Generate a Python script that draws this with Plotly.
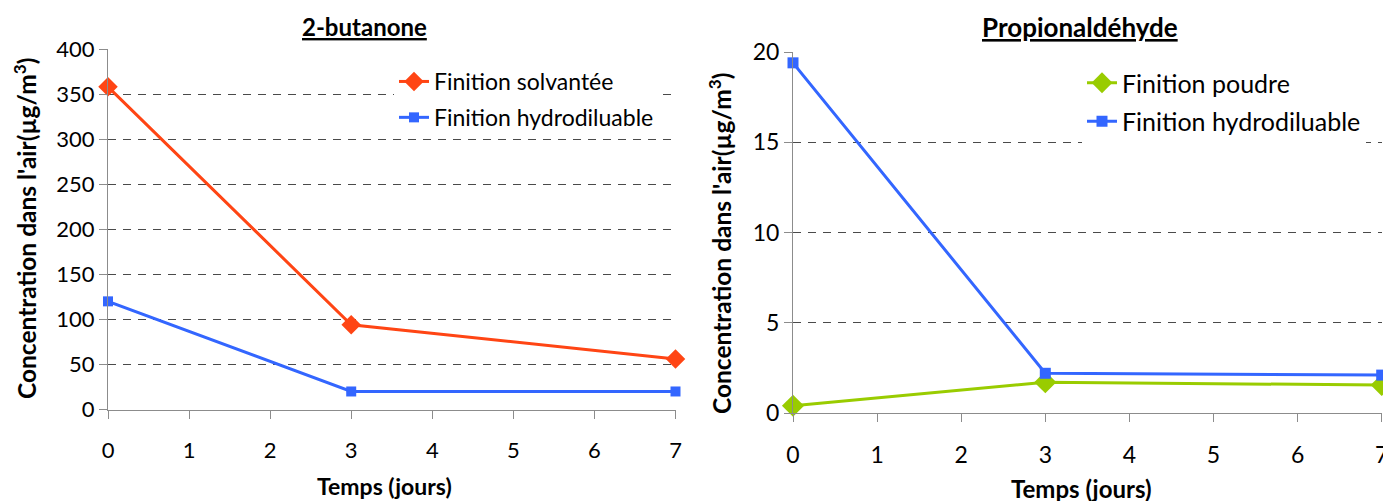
import plotly.graph_objects as go

# ---- data ----
days = [0, 3, 7]
x_tick_vals = [0, 1, 2, 3, 4, 5, 6, 7]
butanone_solvantee = [358, 94, 56]
butanone_hydro = [120, 20, 20]
propio_poudre = [0.4, 1.7, 1.55]
propio_hydro = [19.4, 2.2, 2.1]

W, H = 1383, 501
def px(x):
    return x / W
def py(y):
    return 1 - y / H

ORANGE = "#FF4514"
BLUE = "#3366FF"
GREEN = "#99CC00"
AXIS = "#8c8c8c"
GRID = "#4a4a4a"
FONT = "Lato, 'Open Sans', sans-serif"

fig = go.Figure()

fig.add_trace(go.Scatter(x=days, y=butanone_solvantee, mode="lines+markers",
                         name="Finition solvantée", legendgroup="a",
                         line=dict(color=ORANGE, width=3),
                         marker=dict(symbol="diamond", size=15, color=ORANGE),
                         cliponaxis=False, xaxis="x", yaxis="y", legend="legend"))
fig.add_trace(go.Scatter(x=days, y=butanone_hydro, mode="lines+markers",
                         name="Finition hydrodiluable", legendgroup="b",
                         line=dict(color=BLUE, width=3),
                         marker=dict(symbol="square", size=10, color=BLUE),
                         cliponaxis=False, xaxis="x", yaxis="y", legend="legend"))
fig.add_trace(go.Scatter(x=days, y=propio_poudre, mode="lines+markers",
                         name="Finition poudre", legendgroup="c",
                         line=dict(color=GREEN, width=3),
                         marker=dict(symbol="diamond", size=17, color=GREEN),
                         cliponaxis=False, xaxis="x2", yaxis="y2", legend="legend2"))
fig.add_trace(go.Scatter(x=days, y=propio_hydro, mode="lines+markers",
                         name="Finition hydrodiluable", legendgroup="d",
                         line=dict(color=BLUE, width=3),
                         marker=dict(symbol="square", size=11, color=BLUE),
                         cliponaxis=False, xaxis="x2", yaxis="y2", legend="legend2"))

xcommon = dict(range=[0, 7], tickvals=x_tick_vals, ticks="outside", ticklen=8,
               tickcolor=AXIS, showline=True, linecolor=AXIS, linewidth=1,
               showgrid=False, zeroline=False, ticklabelstandoff=13, automargin=False,
               ticklabeloverflow="allow")
ycommon = dict(ticks="outside", ticklen=8, tickcolor=AXIS, showline=True,
               linecolor=AXIS, linewidth=1, showgrid=True, gridcolor=GRID,
               griddash="8px,7px", gridwidth=1, zeroline=False, automargin=False)

fig.update_layout(
    width=W, height=H,
    margin=dict(l=0, r=0, t=0, b=0, pad=0, autoexpand=False),
    paper_bgcolor="white", plot_bgcolor="white",
    font=dict(family=FONT, color="black", size=22),
    xaxis=dict(domain=[px(108), px(675.5)], anchor="y", tickfont=dict(size=22), **xcommon),
    yaxis=dict(domain=[py(409.5), py(49)], anchor="x", range=[0, 400], dtick=50,
               tickfont=dict(size=22), **ycommon),
    xaxis2=dict(domain=[px(793), px(1381.7)], anchor="y2", tickfont=dict(size=23), **xcommon),
    yaxis2=dict(domain=[py(413), py(52)], anchor="x2", range=[0, 20], dtick=5,
                tickfont=dict(size=23), **ycommon),
    legend=dict(x=px(394), y=py(60), xanchor="left", yanchor="top",
                bgcolor="white", font=dict(size=23), tracegroupgap=3,
                traceorder="grouped"),
    legend2=dict(x=px(1082), y=py(60), xanchor="left", yanchor="top",
                 bgcolor="white", font=dict(size=25), tracegroupgap=3,
                 traceorder="grouped"),
    showlegend=True,
)

ann = []
ann.append(dict(text="<b><u>2-butanone</u></b>", x=px(364), y=py(27), xref="paper", yref="paper",
                showarrow=False, font=dict(size=24), xanchor="center", yanchor="middle"))
ann.append(dict(text="<b><u>Propionaldéhyde</u></b>", x=px(1080), y=py(27), xref="paper", yref="paper",
                showarrow=False, font=dict(size=26), xanchor="center", yanchor="middle"))
ann.append(dict(text="<b>Temps (jours)</b>", x=px(385), y=py(486), xref="paper", yref="paper",
                showarrow=False, font=dict(size=23), xanchor="center", yanchor="middle"))
ann.append(dict(text="<b>Temps (jours)</b>", x=px(1081), y=py(488), xref="paper", yref="paper",
                showarrow=False, font=dict(size=24), xanchor="center", yanchor="middle"))
ann.append(dict(text="<b>Concentration dans l'air(µg/m<sup>3</sup>)</b>", x=px(25), y=py(229),
                xref="paper", yref="paper", showarrow=False, textangle=-90,
                font=dict(size=24.5), xanchor="center", yanchor="middle"))
ann.append(dict(text="<b>Concentration dans l'air(µg/m<sup>3</sup>)</b>", x=px(720), y=py(244),
                xref="paper", yref="paper", showarrow=False, textangle=-90,
                font=dict(size=24.5), xanchor="center", yanchor="middle"))
fig.update_layout(annotations=ann)

fig.write_html("out.html", config={"displayModeBar": False},
               post_script="document.body.style.margin='0';document.body.style.overflow='hidden';")
